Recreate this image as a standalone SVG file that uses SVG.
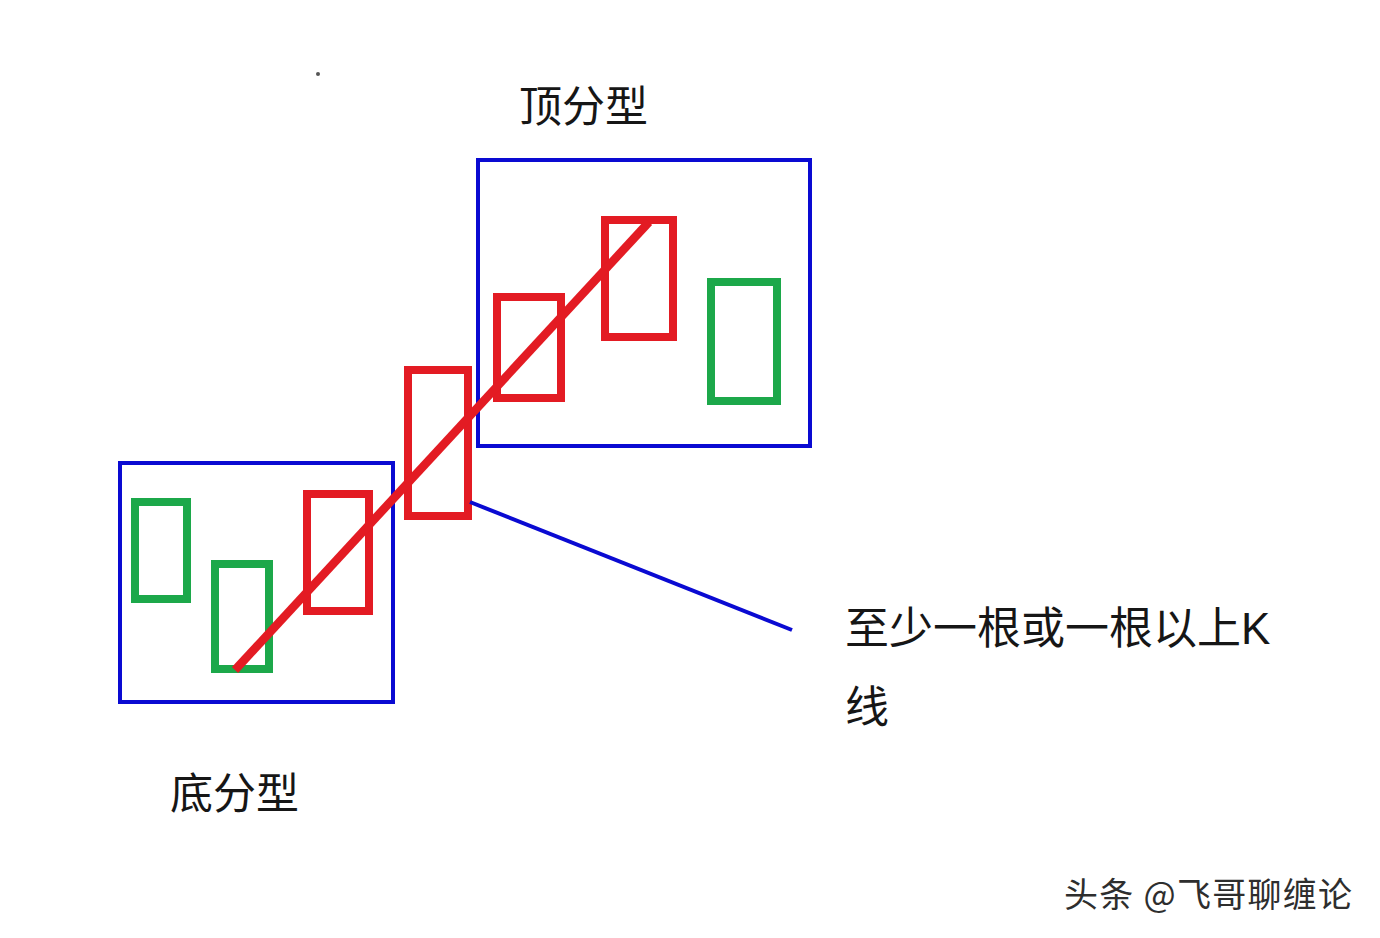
<svg xmlns="http://www.w3.org/2000/svg" width="1380" height="938" viewBox="0 0 1380 938">
<style>
.box{fill:none;stroke:#0a0ad2;stroke-width:4}
.red{fill:none;stroke:#e31b23;stroke-width:8}
.green{fill:none;stroke:#1ca84a;stroke-width:8}
.lbl{font-family:"Liberation Sans","Noto Sans CJK SC",sans-serif;fill:#161616}
.wm{font-family:"Noto Sans CJK SC",sans-serif;fill:#2e2e2e;font-size:34px}
</style>
<rect width="1380" height="938" fill="#ffffff"/>
<circle cx="318" cy="74" r="2" fill="#555"/>
<g id="bottom-fractal">
<rect class="box" x="120" y="463" width="273" height="239"/>
<rect class="green" x="135" y="502" width="52" height="97"/>
<rect class="green" x="215" y="564" width="54" height="105"/>
<rect class="red" x="307" y="494" width="62" height="117"/>
</g>
<g id="middle-candle">
<rect class="red" x="408" y="370" width="60" height="146"/>
</g>
<g id="top-fractal">
<rect class="box" x="478" y="160" width="332" height="286"/>
<rect class="red" x="497" y="297" width="64" height="101"/>
<rect class="red" x="605" y="220" width="68" height="117"/>
<rect class="green" x="711" y="282" width="66" height="119"/>
</g>
<g id="connectors">
<line x1="235" y1="670" x2="649" y2="222" stroke="#e31b23" stroke-width="8.5" stroke-linecap="butt"/>
<line x1="470" y1="502" x2="792" y2="630" stroke="#0a0ad2" stroke-width="4"/>
</g>
<g id="labels">
<text class="lbl" x="519" y="122" font-size="43">顶分型</text>
<text class="lbl" x="170" y="809" font-size="43">底分型</text>
<text class="lbl" x="845" y="644" font-size="44">至少一根或一根以上K</text>
<text class="lbl" x="845" y="723" font-size="44">线</text>
</g>
<g id="watermark">
<text class="wm" x="1064" y="907" textLength="288" lengthAdjust="spacing">头条 @飞哥聊缠论</text>
</g>
</svg>
